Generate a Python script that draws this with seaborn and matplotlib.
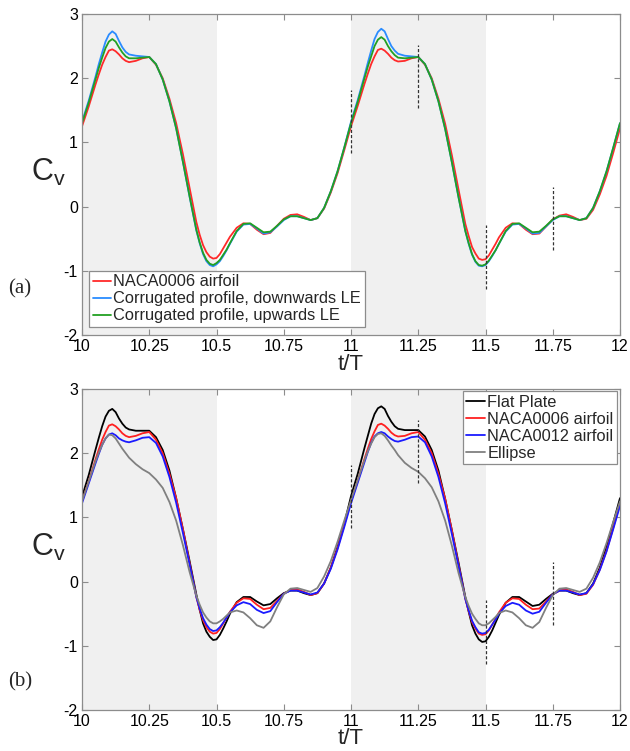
import numpy as np
import pandas as pd
import matplotlib
matplotlib.use("Agg")
import matplotlib.pyplot as plt
from matplotlib.lines import Line2D
import seaborn as sns

# ---------------- data ----------------
# base samples every 0.025 from 10 to 12, plus extra samples around peaks/troughs
t_start, t_step, n_pts = 10.0, 0.025, 81
t_extra = [10.0625, 10.0875, 10.1125, 10.1375, 10.1625,
           10.4375, 10.4625, 10.4875, 10.5125, 10.5375,
           11.0625, 11.0875, 11.1125, 11.1375, 11.1625,
           11.4375, 11.4625, 11.4875, 11.5125, 11.5375]

x_ticks = [10, 10.25, 10.5, 10.75, 11, 11.25, 11.5, 11.75, 12]
x_tick_labels = ["10", "10.25", "10.5", "10.75", "11", "11.25", "11.5", "11.75", "12"]
y_ticks = [-2, -1, 0, 1, 2, 3]
shade_ranges = [(10.0, 10.5), (11.0, 11.5)]
marker_t = [11.0, 11.25, 11.5, 11.75]
marker_lo = [0.83, 1.53, -1.28, -0.68]
marker_hi = [1.82, 2.52, -0.29, 0.31]

naca0006 = [1.25, 1.56, 1.90, 2.21, 2.43, 2.42, 2.31, 2.25, 2.27, 2.31,
            2.33, 2.21, 2.00, 1.68, 1.30, 0.82, 0.29, -0.24, -0.60, -0.78,
            -0.80, -0.65, -0.47, -0.33, -0.26, -0.27, -0.36, -0.43, -0.41, -0.30,
            -0.19, -0.13, -0.12, -0.16, -0.21, -0.18, -0.03, 0.22, 0.52, 0.88,
            1.25, 1.57, 1.91, 2.22, 2.44, 2.43, 2.32, 2.26, 2.27, 2.31,
            2.33, 2.21, 2.00, 1.68, 1.29, 0.80, 0.26, -0.27, -0.63, -0.81,
            -0.82, -0.67, -0.48, -0.33, -0.26, -0.27, -0.36, -0.43, -0.42, -0.31,
            -0.20, -0.14, -0.12, -0.16, -0.21, -0.19, -0.05, 0.19, 0.48, 0.84, 1.22]
naca0006_x = [2.06, 2.33, 2.45, 2.37, 2.27, -0.44, -0.71, -0.81, -0.74, -0.56,
              2.07, 2.34, 2.46, 2.38, 2.28, -0.46, -0.73, -0.83, -0.76, -0.58]

corr_down = [1.32, 1.65, 2.02, 2.40, 2.68, 2.69, 2.48, 2.37, 2.35, 2.34,
             2.33, 2.22, 1.98, 1.64, 1.22, 0.70, 0.15, -0.37, -0.74, -0.91,
             -0.90, -0.77, -0.58, -0.39, -0.28, -0.27, -0.34, -0.42, -0.40, -0.31,
             -0.21, -0.15, -0.15, -0.18, -0.21, -0.18, -0.02, 0.24, 0.55, 0.92,
             1.32, 1.66, 2.04, 2.43, 2.72, 2.73, 2.50, 2.38, 2.35, 2.34,
             2.33, 2.22, 1.98, 1.64, 1.21, 0.69, 0.14, -0.38, -0.75, -0.92,
             -0.91, -0.77, -0.58, -0.39, -0.28, -0.27, -0.34, -0.42, -0.41, -0.31,
             -0.21, -0.15, -0.15, -0.18, -0.21, -0.18, -0.02, 0.24, 0.55, 0.92, 1.30]
corr_down_x = [2.22, 2.57, 2.73, 2.58, 2.41, -0.57, -0.85, -0.93, -0.85, -0.68,
               2.24, 2.61, 2.77, 2.61, 2.43, -0.58, -0.86, -0.93, -0.85, -0.68]

corr_up = [1.30, 1.62, 1.98, 2.32, 2.57, 2.57, 2.40, 2.31, 2.31, 2.32,
           2.33, 2.22, 1.98, 1.64, 1.22, 0.70, 0.16, -0.36, -0.72, -0.89,
           -0.88, -0.75, -0.57, -0.38, -0.27, -0.26, -0.33, -0.40, -0.39, -0.30,
           -0.20, -0.15, -0.15, -0.18, -0.21, -0.18, -0.02, 0.24, 0.55, 0.92,
           1.30, 1.63, 2.00, 2.34, 2.60, 2.60, 2.42, 2.32, 2.31, 2.32,
           2.33, 2.22, 1.98, 1.64, 1.21, 0.69, 0.14, -0.38, -0.74, -0.91,
           -0.90, -0.76, -0.58, -0.38, -0.27, -0.26, -0.33, -0.40, -0.39, -0.30,
           -0.20, -0.15, -0.15, -0.18, -0.21, -0.18, -0.02, 0.24, 0.55, 0.92, 1.30]
corr_up_x = [2.16, 2.47, 2.61, 2.48, 2.34, -0.56, -0.83, -0.91, -0.83, -0.67,
             2.18, 2.50, 2.64, 2.50, 2.36, -0.57, -0.85, -0.92, -0.84, -0.68]

flat_plate = [1.32, 1.66, 2.05, 2.42, 2.66, 2.64, 2.46, 2.37, 2.35, 2.35,
              2.35, 2.25, 2.05, 1.73, 1.30, 0.82, 0.32, -0.20, -0.65, -0.86,
              -0.90, -0.73, -0.50, -0.32, -0.24, -0.24, -0.31, -0.37, -0.35, -0.26,
              -0.18, -0.14, -0.14, -0.18, -0.21, -0.18, -0.03, 0.22, 0.54, 0.90,
              1.33, 1.68, 2.08, 2.46, 2.70, 2.69, 2.49, 2.38, 2.36, 2.36,
              2.36, 2.26, 2.05, 1.73, 1.29, 0.80, 0.29, -0.24, -0.68, -0.90,
              -0.93, -0.76, -0.52, -0.33, -0.24, -0.24, -0.31, -0.38, -0.36, -0.27,
              -0.19, -0.14, -0.14, -0.18, -0.21, -0.18, -0.03, 0.22, 0.54, 0.92, 1.30]
flat_plate_x = [2.24, 2.57, 2.69, 2.54, 2.40, -0.44, -0.78, -0.91, -0.83, -0.62,
                2.27, 2.61, 2.73, 2.58, 2.42, -0.47, -0.81, -0.94, -0.86, -0.64]

naca0012 = [1.22, 1.53, 1.84, 2.13, 2.29, 2.28, 2.20, 2.17, 2.20, 2.24,
            2.25, 2.16, 1.95, 1.63, 1.23, 0.76, 0.27, -0.24, -0.57, -0.74,
            -0.76, -0.64, -0.48, -0.37, -0.32, -0.35, -0.44, -0.49, -0.46, -0.32,
            -0.19, -0.14, -0.14, -0.17, -0.20, -0.17, -0.03, 0.20, 0.50, 0.85,
            1.22, 1.54, 1.86, 2.16, 2.31, 2.31, 2.22, 2.18, 2.21, 2.25,
            2.26, 2.17, 1.95, 1.63, 1.22, 0.74, 0.24, -0.27, -0.61, -0.79,
            -0.80, -0.67, -0.50, -0.38, -0.33, -0.36, -0.45, -0.50, -0.47, -0.33,
            -0.20, -0.14, -0.14, -0.17, -0.20, -0.18, -0.04, 0.18, 0.47, 0.82, 1.18]
naca0012_x = [1.99, 2.23, 2.31, 2.23, 2.18, -0.42, -0.67, -0.77, -0.71, -0.56,
              2.02, 2.26, 2.33, 2.26, 2.19, -0.45, -0.71, -0.81, -0.75, -0.59]

ellipse = [1.25, 1.56, 1.87, 2.13, 2.29, 2.23, 2.07, 1.93, 1.83, 1.75,
           1.69, 1.59, 1.46, 1.24, 0.95, 0.57, 0.15, -0.22, -0.48, -0.62,
           -0.65, -0.58, -0.48, -0.45, -0.48, -0.57, -0.68, -0.72, -0.62, -0.40,
           -0.20, -0.11, -0.10, -0.13, -0.16, -0.10, 0.08, 0.32, 0.62, 0.95,
           1.27, 1.58, 1.89, 2.15, 2.30, 2.27, 2.12, 1.97, 1.85, 1.77,
           1.71, 1.61, 1.47, 1.25, 0.95, 0.56, 0.13, -0.24, -0.50, -0.65,
           -0.68, -0.60, -0.49, -0.45, -0.48, -0.57, -0.68, -0.72, -0.63, -0.41,
           -0.21, -0.11, -0.10, -0.13, -0.16, -0.11, 0.06, 0.30, 0.60, 0.93, 1.25]
ellipse_x = [2.01, 2.23, 2.28, 2.15, 2.00, -0.36, -0.56, -0.65, -0.62, -0.53,
             2.03, 2.25, 2.31, 2.20, 2.05, -0.38, -0.58, -0.68, -0.65, -0.55]

labels_a = ["NACA0006 airfoil", "Corrugated profile, downwards LE", "Corrugated profile, upwards LE"]
colors_a = ["#ff2a2a", "#2a8cff", "#22a022"]
series_a = [(naca0006, naca0006_x), (corr_down, corr_down_x), (corr_up, corr_up_x)]

labels_b = ["Flat Plate", "NACA0006 airfoil", "NACA0012 airfoil", "Ellipse"]
colors_b = ["#000000", "#ff2020", "#1a1aff", "#808080"]
series_b = [(flat_plate, flat_plate_x), (naca0006, naca0006_x),
            (naca0012, naca0012_x), (ellipse, ellipse_x)]

t_base = t_start + t_step * np.arange(n_pts)
t_all = np.concatenate([t_base, np.array(t_extra)])
order = np.argsort(t_all)

# ---------------- style ----------------
sns.set_theme(style="white")
plt.rcParams["font.family"] = ["Liberation Sans", "DejaVu Sans"]
plt.rcParams["mathtext.fontset"] = "custom"
plt.rcParams["mathtext.rm"] = "Liberation Sans"
plt.rcParams["mathtext.it"] = "Liberation Sans"

fig = plt.figure(figsize=(6.30, 7.51), dpi=100)
W, H = 630.0, 751.0
ax_a = fig.add_axes([82 / W, 1 - 335 / H, 538 / W, 321 / H])
ax_b = fig.add_axes([82 / W, 1 - 710 / H, 538 / W, 321 / H])

spine_col = "#8c8c8c"


def draw_panel(ax, series, labels, colors, panel_tag, legend_loc, legend_anchor):
    for lo, hi in shade_ranges:
        ax.axvspan(lo, hi, color="#f0f0f0", lw=0, zorder=0)
    frames = []
    for (base, extra), lab in zip(series, labels):
        vals = np.concatenate([np.array(base), np.array(extra)])
        frames.append(pd.DataFrame({"t": t_all[order], "Cv": vals[order], "series": lab}))
    df = pd.concat(frames, ignore_index=True)
    sns.lineplot(data=df, x="t", y="Cv", hue="series", hue_order=labels,
                 palette=colors, estimator=None, sort=False, legend=False,
                 lw=1.3, ax=ax)
    for ln in ax.lines:
        ln.set_solid_joinstyle("round")
    ax.vlines(marker_t, marker_lo, marker_hi, colors="#333333",
              linestyles=(0, (2.5, 1.6)), lw=0.9, zorder=5)
    ax.set_xlim(10, 12)
    ax.set_ylim(-2, 3)
    ax.set_xticks(x_ticks)
    ax.set_xticklabels(x_tick_labels)
    ax.set_yticks(y_ticks)
    ax.set_yticklabels([str(v) for v in y_ticks])
    ax.tick_params(direction="in", length=4, width=0.8, color=spine_col,
                   labelsize=11.5, labelcolor="black", top=True, right=True,
                   bottom=True, left=True, pad=3)
    for sp in ax.spines.values():
        sp.set_color(spine_col)
        sp.set_linewidth(0.9)
    ax.set_facecolor("white")
    ax.set_xlabel("t/T", fontsize=16)
    ax.xaxis.set_label_coords(0.5, -29 / 321)
    ax.xaxis.label.set_va("center")
    ax.set_ylabel(r"C$_{\mathregular{v}}$", fontsize=22, rotation=0)
    ax.yaxis.set_label_coords(-34 / 538, 0.505)
    ax.yaxis.label.set_va("center")
    ax.yaxis.label.set_ha("center")
    handles = [Line2D([], [], color=c, lw=1.3) for c in colors]
    leg = ax.legend(handles, labels, loc=legend_loc, bbox_to_anchor=legend_anchor,
                    borderaxespad=0, fontsize=11.8, handlelength=1.15,
                    handletextpad=0.12, labelspacing=0.12, borderpad=0.22,
                    fancybox=False, frameon=True, framealpha=1)
    leg.get_frame().set_edgecolor(spine_col)
    leg.get_frame().set_linewidth(0.9)
    ax.text(-62 / 538, panel_tag[1], panel_tag[0], transform=ax.transAxes,
            fontsize=15, family=["Liberation Serif", "DejaVu Serif"],
            ha="center", va="center")


draw_panel(ax_a, series_a, labels_a, colors_a, ("(a)", (335 - 289) / 321),
           "lower left", ((89 - 82) / 538, (335 - 327) / 321))
draw_panel(ax_b, series_b, labels_b, colors_b, ("(b)", (710 - 682) / 321),
           "upper right", ((617 - 82) / 538, 1 - (391 - 389) / 321))

fig.savefig("out.png", dpi=100)
